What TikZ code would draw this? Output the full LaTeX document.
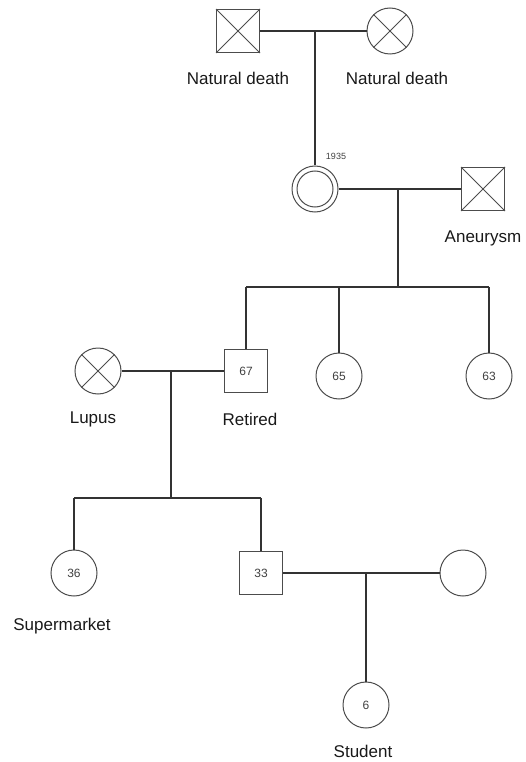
\documentclass[tikz,border=0pt]{standalone}
\usepackage{fontspec}
\setmainfont{Liberation Sans}
\begin{document}
\begin{tikzpicture}[x=1pt,y=-1pt,
  line width=1.3pt,
  lw/.style={draw=black!80},
  male/.style={draw=black!70,line width=1pt,rectangle,minimum size=43pt,inner sep=0pt,font=\fontsize{12}{12}\selectfont,text=black!75},
  female/.style={draw=black!70,line width=1pt,circle,minimum size=46pt,inner sep=0pt,font=\fontsize{12}{12}\selectfont,text=black!75},
  lbl/.style={font=\fontsize{17}{17}\selectfont,text=black!90,inner sep=0pt},
  cross/.style={draw=black!70,line width=0.9pt}]
\useasboundingbox (0,0) rectangle (526,762);
% generation I
\node[male] (gf) at (238,31) {};
\node[female] (gm) at (390,31) {};
\draw[cross] (gf.north west)--(gf.south east) (gf.north east)--(gf.south west);
\draw[cross] (gm.north west)--(gm.south east) (gm.north east)--(gm.south west);
\node[lbl] (gfl) at (238,78) {Natural death};
\node[lbl] (gml) at (397,78) {Natural death};
% generation II
\node[female,minimum size=46pt] (pb) at (315,189) {};
\node[draw=black!70,line width=1pt,circle,minimum size=36pt,inner sep=0pt] (pbi) at (pb) {};
\node[font=\fontsize{9}{9}\selectfont,text=black!75] (year) at (336,156) {1935};
\node[male] (sp) at (483,189) {};
\draw[cross] (sp.north west)--(sp.south east) (sp.north east)--(sp.south west);
\node[lbl] (spl) at (483,238) {Aneurysm};
\coordinate (j1) at (pb |- gf);
\coordinate (j2) at (398,189);
\coordinate (s2) at (398,287);
% generation III
\node[male] (c67) at (246,371) {67};
\node[female] (c65) at (339,376) {65};
\node[female] (c63) at (489,376) {63};
\node[female] (lu) at (98,371) {};
\draw[cross] (lu.north west)--(lu.south east) (lu.north east)--(lu.south west);
\node[lbl] (lul) at (93,419) {Lupus};
\node[lbl] (rel) at (250,419) {Retired};
\coordinate (s2a) at (c67 |- s2);
\coordinate (s2b) at (c65 |- s2);
\coordinate (s2c) at (c63 |- s2);
\coordinate (j3) at (171,371);
\coordinate (s3) at (171,498);
% generation IV
\node[female] (c36) at (74,573) {36};
\node[male] (c33) at (261,573) {33};
\node[female] (w) at (463,573) {};
\node[lbl] (sml) at (62,626) {Supermarket};
\node[female] (c6) at (366,705) {6};
\node[lbl] (stl) at (363,751) {Student};
\coordinate (s3a) at (c36 |- s3);
\coordinate (s3b) at (c33 |- s3);
\coordinate (j4) at (c6 |- c33);
% connectors
\draw[lw] (gf.east)--(gm.west);
\draw[lw] (j1)--(pb.north);
\draw[lw] (pb.east)--(sp.west);
\draw[lw] (j2)--(s2);
\draw[lw] (s2a)--(s2c);
\draw[lw] (s2a)--(c67.north);
\draw[lw] (s2b)--(c65.north);
\draw[lw] (s2c)--(c63.north);
\draw[lw] (lu.east)--(c67.west);
\draw[lw] (j3)--(s3);
\draw[lw] (s3a)--(s3b);
\draw[lw] (s3a)--(c36.north);
\draw[lw] (s3b)--(c33.north);
\draw[lw] (c33.east)--(w.west);
\draw[lw] (j4)--(c6.north);
\end{tikzpicture}
\end{document}
